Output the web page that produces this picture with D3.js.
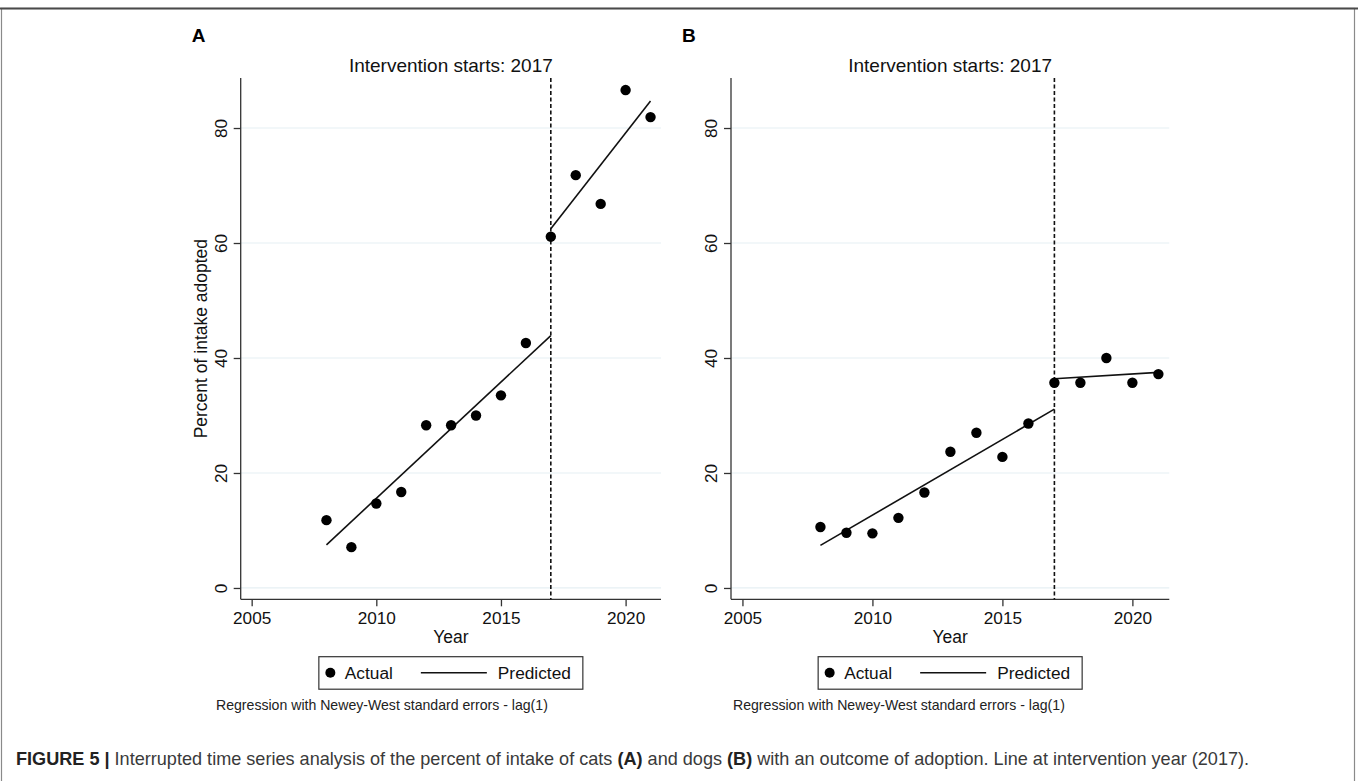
<!DOCTYPE html>
<html>
<head>
<meta charset="utf-8">
<script src="https://cdn.jsdelivr.net/npm/d3@7"></script>
<style>
  html, body { margin: 0; padding: 0; background: #fff; }
  svg { display: block; font-family: "Liberation Sans", Arial, Helvetica, sans-serif; }
</style>
</head>
<body>
<svg id="fig" width="1358" height="781"></svg>
<script>
// ---- data ----
const years = [2008, 2009, 2010, 2011, 2012, 2013, 2014, 2015, 2016, 2017, 2018, 2019, 2020, 2021];
// Percent of intake adopted (observed)
const catsActual = [11.8, 7.1, 14.7, 16.7, 28.3, 28.3, 30.0, 33.5, 42.6, 61.1, 71.8, 66.8, 86.6, 81.9];
const dogsActual = [10.6, 9.6, 9.5, 12.2, 16.6, 23.7, 27.0, 22.8, 28.6, 35.7, 35.7, 40.0, 35.7, 37.2];
// Fitted segments: [start, end] years and predicted values
const preYears = [2008, 2017];
const postYears = [2017, 2021];
const catsPredPre = [7.5, 43.9];
const catsPredPost = [62.5, 84.7];
const dogsPredPre = [7.4, 31.1];
const dogsPredPost = [36.4, 37.5];
const interventionYear = 2017;
const xTicks = [2005, 2010, 2015, 2020];
const yTicks = [0, 20, 40, 60, 80];

const svg = d3.select("#fig");

// outer figure frame
svg.append("rect").attr("x", 1.5).attr("y", 8.5).attr("width", 1353).attr("height", 790)
  .attr("fill", "none").attr("stroke", "#8a8a8a").attr("stroke-width", 1.2);
svg.append("line").attr("x1", 0).attr("x2", 1358).attr("y1", 8.5).attr("y2", 8.5)
  .attr("stroke", "#4a4a4a").attr("stroke-width", 2);

const xDomain = [2004.56, 2021.42];
const yDomain = [-1.97, 88.7];
const yTop = 78, yBottom = 599.3;
const labelSize = "17.2px";

function panel(opts) {
  const { left, right, label, actual, predPre, predPost, yTitle } = opts;
  const x = d3.scaleLinear().domain(xDomain).range([left, right]);
  const y = d3.scaleLinear().domain(yDomain).range([yBottom, yTop]);
  const g = svg.append("g");

  // gridlines
  g.selectAll("line.grid").data(yTicks).join("line")
    .attr("x1", left).attr("x2", right)
    .attr("y1", d => y(d)).attr("y2", d => y(d))
    .attr("stroke", "#e6eff3").attr("stroke-width", 1.2);

  // axes
  const yAxis = d3.axisLeft(y).tickValues(yTicks).tickSize(7).tickPadding(4).tickFormat(d3.format("d"));
  const ya = g.append("g").attr("transform", `translate(${left},0)`).call(yAxis);
  ya.select(".domain").attr("d", `M0,${yTop}V${yBottom}`);
  const xAxis = d3.axisBottom(x).tickValues(xTicks).tickSize(7).tickPadding(5).tickFormat(d3.format("d"));
  const xa = g.append("g").attr("transform", `translate(0,${yBottom})`).call(xAxis);
  xa.select(".domain").attr("d", `M${left},0H${right}`);
  [ya, xa].forEach(a => {
    a.selectAll(".domain, .tick line").attr("stroke", "#333").attr("stroke-width", 1.3);
    a.selectAll("text").attr("fill", "#111").style("font-size", labelSize)
      .style("font-family", "Liberation Sans, Arial, sans-serif");
  });
  // rotated y tick labels
  ya.selectAll(".tick text")
    .attr("x", null)
    .attr("text-anchor", "middle")
    .attr("transform", "translate(-20,0) rotate(-90)")
    .attr("dy", "0.35em");

  // intervention line
  g.append("line")
    .attr("x1", x(interventionYear)).attr("x2", x(interventionYear))
    .attr("y1", yTop).attr("y2", yBottom)
    .attr("stroke", "#111").attr("stroke-width", 1.6).attr("stroke-dasharray", "4,2.5");

  // predicted segments
  const line = d3.line().x(d => x(d[0])).y(d => y(d[1]));
  [[preYears, predPre], [postYears, predPost]].forEach(([yrs, vals]) => {
    g.append("path").datum(d3.zip(yrs, vals)).attr("d", line)
      .attr("fill", "none").attr("stroke", "#111").attr("stroke-width", 1.6);
  });

  // actual points
  g.selectAll("circle.pt").data(d3.zip(years, actual)).join("circle")
    .attr("cx", d => x(d[0])).attr("cy", d => y(d[1])).attr("r", 5.2).attr("fill", "#000");

  const cx = (left + right) / 2;
  // title
  g.append("text").attr("x", cx).attr("y", 72).attr("text-anchor", "middle")
    .style("font-size", "19px").attr("fill", "#111").text("Intervention starts: 2017");
  // panel letter
  g.append("text").attr("x", left - 49).attr("y", 42).style("font-size", "19px")
    .style("font-weight", "bold").attr("fill", "#000").text(label);
  // x title
  g.append("text").attr("x", cx).attr("y", 643).attr("text-anchor", "middle")
    .style("font-size", "17.5px").attr("fill", "#111").text("Year");
  // y title
  if (yTitle) {
    g.append("text").attr("transform", `translate(${left - 34},${(yTop + yBottom) / 2}) rotate(-90)`)
      .attr("text-anchor", "middle").style("font-size", "17.5px").attr("fill", "#111").text(yTitle);
  }

  // legend
  const lw = 264, lh = 32.5, lx = cx - lw / 2, ly = 656.7;
  const lg = g.append("g");
  lg.append("rect").attr("x", lx).attr("y", ly).attr("width", lw).attr("height", lh)
    .attr("fill", "#fff").attr("stroke", "#333").attr("stroke-width", 1.2);
  lg.append("circle").attr("cx", lx + 11.5).attr("cy", ly + 16).attr("r", 5).attr("fill", "#000");
  lg.append("text").attr("x", lx + 26).attr("y", ly + 22).style("font-size", "17.3px").attr("fill", "#111").text("Actual");
  lg.append("line").attr("x1", lx + 102).attr("x2", lx + 168).attr("y1", ly + 16).attr("y2", ly + 16)
    .attr("stroke", "#111").attr("stroke-width", 1.5);
  lg.append("text").attr("x", lx + 179).attr("y", ly + 22).style("font-size", "17.3px").attr("fill", "#111").text("Predicted");

  // note
  g.append("text").attr("x", opts.noteX).attr("y", 710).style("font-size", "14.1px").attr("fill", "#222")
    .text("Regression with Newey-West standard errors - lag(1)");
}

panel({ left: 240.7, right: 661, label: "A", actual: catsActual, predPre: catsPredPre, predPost: catsPredPost,
        yTitle: "Percent of intake adopted", noteX: 216 });
panel({ left: 731, right: 1169.3, label: "B", actual: dogsActual, predPre: dogsPredPre, predPost: dogsPredPost,
        yTitle: null, noteX: 733 });

// caption
const cap = svg.append("text").attr("x", 16).attr("y", 765).style("font-size", "18.1px").attr("fill", "#3a3a3a");
cap.append("tspan").style("font-weight", "bold").attr("fill", "#222").text("FIGURE 5 | ");
cap.append("tspan").text("Interrupted time series analysis of the percent of intake of cats ");
cap.append("tspan").style("font-weight", "bold").attr("fill", "#222").text("(A)");
cap.append("tspan").text(" and dogs ");
cap.append("tspan").style("font-weight", "bold").attr("fill", "#222").text("(B)");
cap.append("tspan").text(" with an outcome of adoption. Line at intervention year (2017).");
</script>
</body>
</html>
